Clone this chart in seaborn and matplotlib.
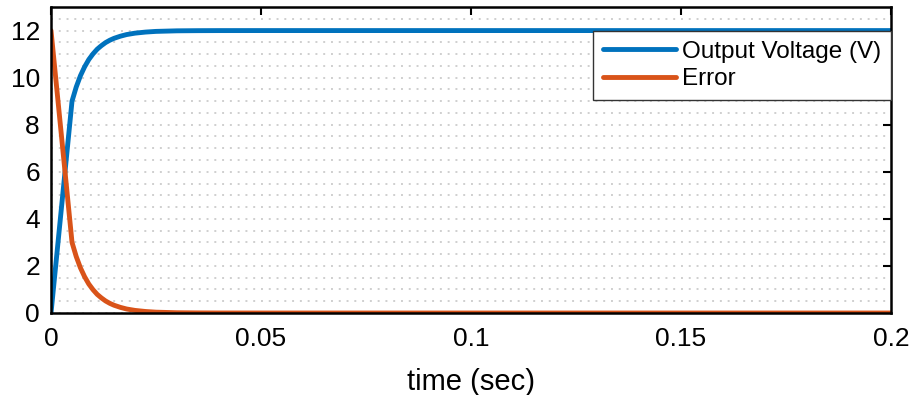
import matplotlib
matplotlib.use("Agg")
import matplotlib.pyplot as plt
import seaborn as sns
import pandas as pd
import numpy as np

# Data
time_s = [0.0, 0.005, 0.006, 0.007, 0.008, 0.009, 0.010, 0.011, 0.012, 0.013,
          0.014, 0.015, 0.0165, 0.018, 0.020, 0.0225, 0.025, 0.030, 0.035,
          0.040, 0.050, 0.100, 0.150, 0.200]
output_voltage = [0.0, 9.0, 9.6, 10.08, 10.46, 10.77, 11.01, 11.21, 11.36, 11.49,
                  11.59, 11.67, 11.76, 11.83, 11.89, 11.936, 11.965, 11.989, 11.996,
                  11.999, 12.0, 12.0, 12.0, 12.0]
error = [12.0, 3.0, 2.4, 1.92, 1.54, 1.23, 0.99, 0.79, 0.64, 0.51,
         0.41, 0.33, 0.24, 0.17, 0.11, 0.064, 0.035, 0.011, 0.004,
         0.001, 0.0, 0.0, 0.0, 0.0]
series_names = ["Output Voltage (V)", "Error"]
x_ticks = [0, 0.05, 0.1, 0.15, 0.2]
x_tick_labels = ["0", "0.05", "0.1", "0.15", "0.2"]
y_ticks = [0, 2, 4, 6, 8, 10, 12]

df = pd.concat([
    pd.DataFrame({"t": time_s, "v": output_voltage, "s": series_names[0]}),
    pd.DataFrame({"t": time_s, "v": error, "s": series_names[1]}),
], ignore_index=True)

sns.set_style("white")
plt.rcParams["font.family"] = ["Liberation Sans", "DejaVu Sans"]
plt.rcParams["text.color"] = "black"

fig = plt.figure(figsize=(9.11, 3.95), dpi=100)
ax = fig.add_axes([0.056, 0.2076, 0.922, 0.7746])

sns.lineplot(data=df, x="t", y="v", hue="s", ax=ax,
             palette=["#0072BD", "#D95319"], linewidth=3.5, legend=True)

ax.set_xlim(0, 0.2)
ax.set_ylim(0, 13)
ax.set_xticks(x_ticks)
ax.set_xticklabels(x_tick_labels)
ax.set_yticks(y_ticks)
ax.set_yticks(np.arange(0.5, 13, 0.5), minor=True)
ax.grid(False)
ax.yaxis.grid(True, which="both", linestyle=(0, (1, 3)), color="#cfcfcf", linewidth=1.4)
ax.xaxis.grid(False, which="both")
ax.set_axisbelow(True)

ax.tick_params(axis="both", which="major", direction="in", length=6, width=1.5,
               top=True, right=True, labelsize=19, colors="black")
ax.tick_params(axis="x", which="major", pad=10)
ax.tick_params(axis="y", which="major", pad=8)
ax.tick_params(axis="y", which="minor", length=0)
for sp in ax.spines.values():
    sp.set_visible(True)
    sp.set_color("black")
    sp.set_linewidth(1.8)

ax.set_xlabel("time (sec)", fontsize=21, labelpad=12, color="black")
ax.set_ylabel("")

leg = ax.legend(loc="upper right", bbox_to_anchor=(1.0, 0.922), fontsize=17.5,
                frameon=True, fancybox=False, edgecolor="#333333",
                handlelength=3.0, handletextpad=0.25, borderpad=0.4,
                labelspacing=0.24, borderaxespad=0.0)
leg.get_frame().set_linewidth(1.0)
leg.get_frame().set_facecolor("white")
leg.get_frame().set_alpha(1.0)
for line in leg.get_lines():
    line.set_linewidth(3.5)
for txt in leg.get_texts():
    txt.set_color("black")

fig.savefig("out.png", dpi=100)
